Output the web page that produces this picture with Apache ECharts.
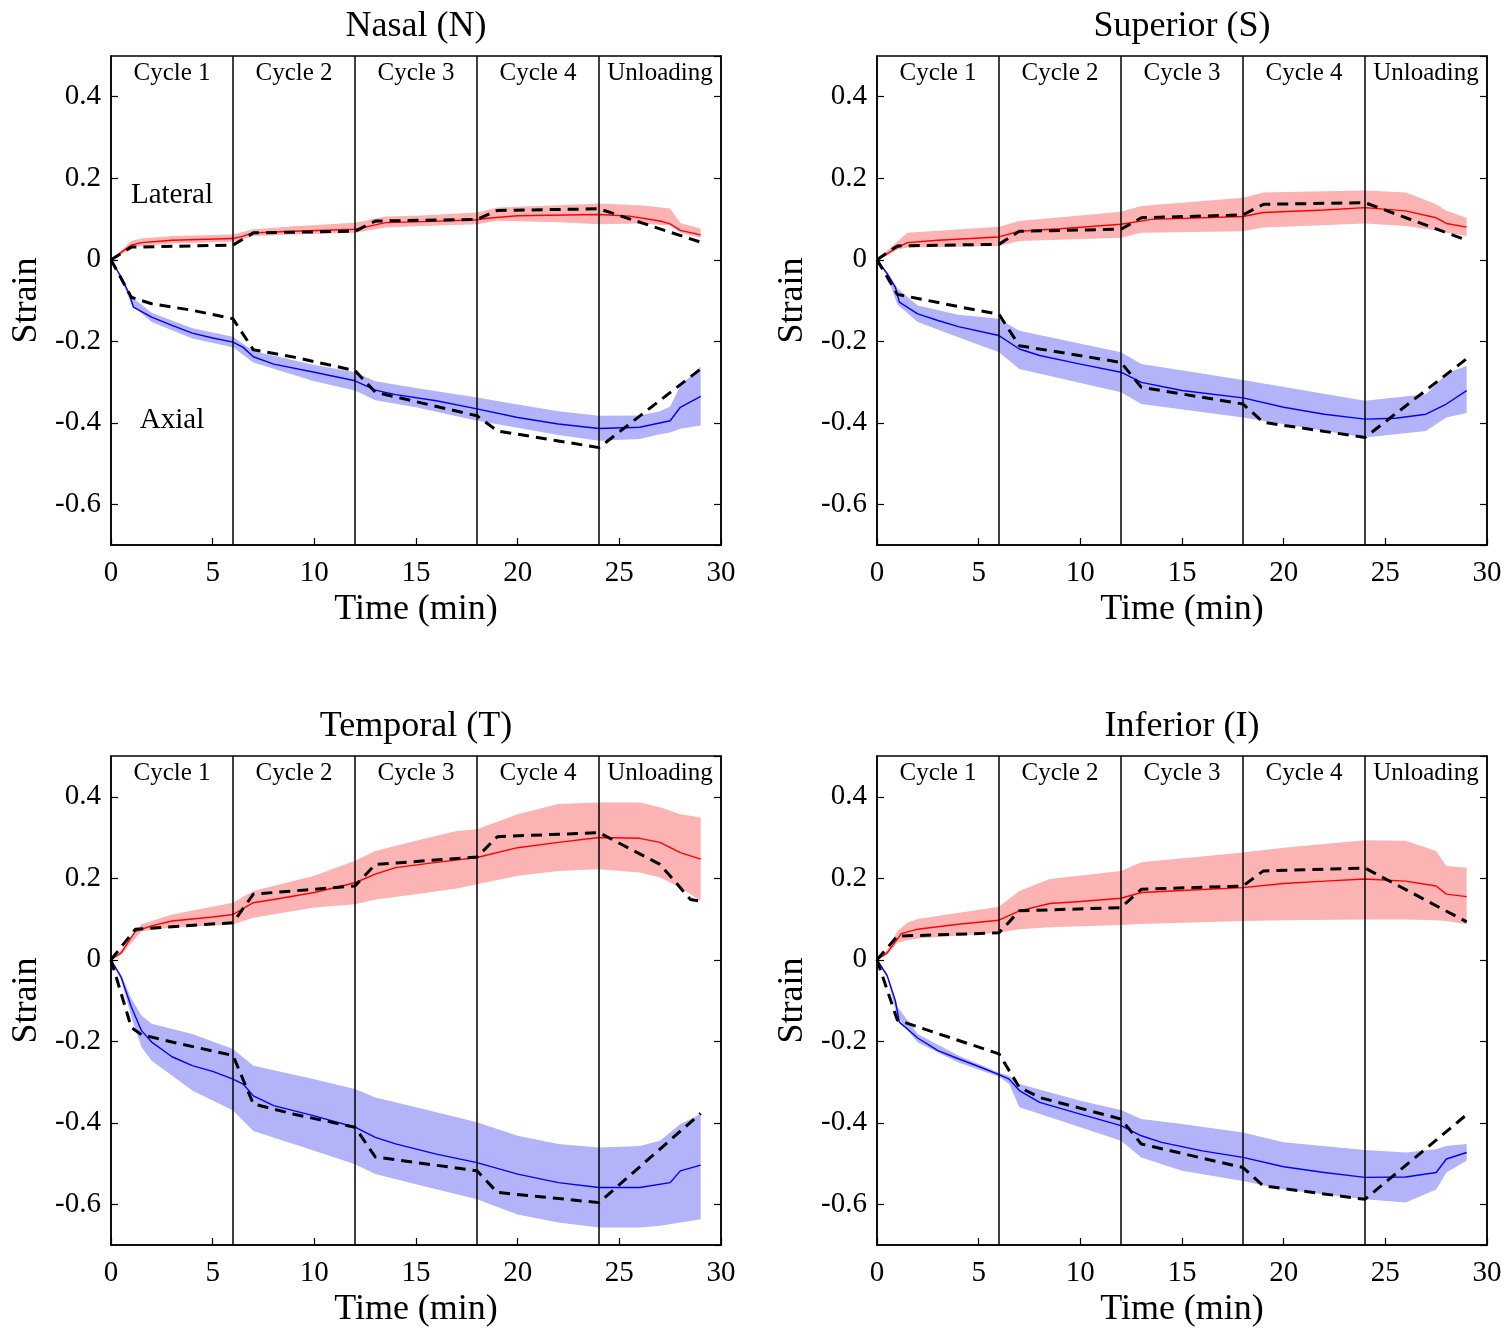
<!DOCTYPE html>
<html><head><meta charset="utf-8">
<script src="https://cdn.jsdelivr.net/npm/echarts@6/dist/echarts.min.js"></script>
<style>html,body{margin:0;padding:0;background:#fff}#c{width:1511px;height:1336px}</style>
</head><body><div id="c"></div><script>
// ---------- data ----------
const xTicks = [0, 5, 10, 15, 20, 25, 30];
const yTicks = [-0.6, -0.4, -0.2, 0, 0.2, 0.4];
const cycleBounds = [6, 12, 18, 24];
const cycleNames = ['Cycle 1', 'Cycle 2', 'Cycle 3', 'Cycle 4', 'Unloading'];
const cycleCenters = [3, 9, 15, 21, 27];
const panelTitles = ['Nasal (N)', 'Superior (S)', 'Temporal (T)', 'Inferior (I)'];
const groupNames = ['Lateral', 'Axial'];
const groupNamePos = [[3, 0.159], [3, -0.395]];

// Nasal
const nasalLatMean = [[0,0],[0.5,0.018],[1,0.036],[1.5,0.042],[3,0.048],[6,0.052],[6.5,0.058],[7,0.066],[9,0.070],[12,0.075],[12.5,0.080],[13.5,0.091],[15,0.093],[18,0.098],[18.5,0.102],[20,0.108],[24,0.111],[25.5,0.107],[27,0.095],[27.5,0.088],[28,0.072],[29,0.061]];
const nasalLatBand = [[0,0,0],[0.5,0.012,0.022],[1,0.030,0.046],[1.5,0.034,0.052],[3,0.040,0.058],[6,0.044,0.062],[7,0.058,0.075],[9,0.062,0.082],[12,0.066,0.091],[13.5,0.079,0.106],[15,0.082,0.108],[18,0.087,0.116],[19,0.096,0.128],[22,0.092,0.134],[24,0.087,0.138],[26,0.089,0.134],[27.5,0.084,0.126],[28,0.066,0.090],[29,0.054,0.076]];
const nasalLatModel = [[0,0],[1,0.031],[6,0.036],[7,0.066],[12,0.070],[13,0.095],[18,0.099],[19,0.121],[24,0.125],[29,0.043]];
const nasalAxMean = [[0,0],[0.5,-0.043],[0.9,-0.084],[1.1,-0.116],[2,-0.141],[3,-0.161],[4,-0.180],[5,-0.192],[6,-0.202],[6.5,-0.215],[7,-0.238],[8,-0.256],[10,-0.276],[12,-0.297],[13,-0.320],[14,-0.331],[16,-0.346],[18,-0.366],[20,-0.387],[22,-0.403],[24,-0.414],[26,-0.411],[27.5,-0.395],[28,-0.362],[29,-0.335]];
const nasalAxBand = [[0,0,0],[0.5,-0.048,-0.038],[1,-0.110,-0.090],[2,-0.153,-0.130],[4,-0.193,-0.168],[6,-0.215,-0.189],[7,-0.252,-0.224],[10,-0.298,-0.258],[12,-0.321,-0.276],[13,-0.345,-0.298],[15,-0.362,-0.315],[18,-0.395,-0.338],[20,-0.412,-0.355],[22,-0.430,-0.372],[24,-0.444,-0.383],[26,-0.440,-0.382],[27,-0.428,-0.372],[27.5,-0.424,-0.360],[28,-0.415,-0.310],[29,-0.407,-0.262]];
const nasalAxModel = [[0,0],[1,-0.092],[2,-0.108],[4,-0.124],[6,-0.145],[7,-0.221],[9,-0.239],[12,-0.272],[13,-0.325],[18,-0.383],[19,-0.420],[24,-0.461],[29,-0.268]];

// Superior
const supLatMean = [[0,0],[0.5,0.015],[1,0.030],[1.5,0.042],[3,0.048],[6,0.056],[7,0.070],[9,0.076],[12,0.087],[13.5,0.099],[18,0.106],[19,0.116],[22,0.122],[24,0.128],[26,0.120],[27.5,0.103],[28,0.089],[29,0.080]];
const supLatBand = [[0,0,0],[0.5,0.010,0.022],[1,0.025,0.045],[1.5,0.030,0.066],[6,0.034,0.081],[7,0.046,0.095],[12,0.054,0.118],[13,0.066,0.132],[18,0.070,0.152],[19,0.079,0.165],[24,0.089,0.170],[26,0.083,0.165],[27.5,0.072,0.136],[28,0.066,0.120],[29,0.058,0.103]];
const supLatModel = [[0,0],[1,0.034],[6,0.038],[7,0.070],[12,0.075],[13,0.103],[18,0.110],[19,0.136],[24,0.140],[29,0.048]];
const supAxMean = [[0,0],[0.5,-0.034],[0.9,-0.067],[1.1,-0.104],[2,-0.133],[3,-0.149],[4,-0.164],[6,-0.186],[7,-0.219],[8,-0.235],[10,-0.256],[12,-0.276],[13,-0.301],[15,-0.321],[18,-0.339],[20,-0.362],[22,-0.379],[24,-0.391],[25.5,-0.389],[27,-0.379],[28,-0.354],[29,-0.321]];
const supAxBand = [[0,0,0],[0.5,-0.040,-0.030],[1,-0.110,-0.070],[2,-0.153,-0.112],[4,-0.190,-0.135],[6,-0.227,-0.145],[7,-0.268,-0.174],[12,-0.325,-0.227],[13,-0.354,-0.256],[18,-0.387,-0.295],[24,-0.436,-0.346],[27,-0.420,-0.330],[28,-0.387,-0.280],[29,-0.376,-0.260]];
const supAxModel = [[0,0],[1,-0.085],[4,-0.115],[6,-0.134],[7,-0.211],[9,-0.227],[12,-0.252],[13,-0.313],[18,-0.354],[19,-0.399],[24,-0.436],[29,-0.243]];

// Temporal
const tempLatMean = [[0,0],[0.5,0.017],[1.2,0.070],[2,0.083],[3,0.095],[5,0.105],[6,0.111],[7,0.140],[8,0.148],[10,0.165],[12,0.189],[13,0.210],[14,0.226],[16,0.239],[18,0.251],[20,0.275],[22,0.288],[24,0.300],[26,0.298],[27,0.288],[28,0.263],[29,0.247]];
const tempLatBand = [[0,0,0],[0.5,0.012,0.024],[1.5,0.070,0.087],[3,0.079,0.111],[6,0.087,0.140],[7,0.103,0.169],[10,0.128,0.206],[12,0.136,0.243],[13,0.148,0.267],[15,0.161,0.292],[17,0.175,0.316],[18,0.185,0.320],[20,0.206,0.357],[22,0.218,0.382],[24,0.222,0.386],[26,0.214,0.386],[27,0.202,0.374],[28,0.177,0.357],[29,0.144,0.349]];
const tempLatModel = [[0,0],[1.2,0.075],[6,0.091],[7,0.161],[12,0.181],[13,0.234],[18,0.252],[19,0.302],[24,0.312],[27,0.234],[28.5,0.148],[29,0.144]];
const tempAxMean = [[0,0],[0.5,-0.043],[1,-0.116],[1.5,-0.174],[2,-0.202],[3,-0.238],[4,-0.260],[5,-0.274],[6,-0.293],[6.5,-0.305],[7,-0.334],[8,-0.358],[10,-0.383],[12,-0.411],[13,-0.436],[14,-0.452],[16,-0.477],[18,-0.498],[20,-0.526],[22,-0.547],[24,-0.559],[26,-0.559],[27.5,-0.547],[28,-0.518],[29,-0.504]];
const tempAxBand = [[0,0,0],[0.5,-0.050,-0.036],[1,-0.140,-0.095],[1.5,-0.215,-0.137],[2,-0.248,-0.157],[4,-0.321,-0.182],[6,-0.370,-0.219],[7,-0.420,-0.260],[10,-0.469,-0.293],[12,-0.502,-0.317],[13,-0.526,-0.338],[15,-0.551,-0.362],[18,-0.588,-0.399],[20,-0.625,-0.432],[22,-0.645,-0.452],[24,-0.657,-0.461],[26,-0.657,-0.457],[27,-0.653,-0.444],[28,-0.645,-0.403],[29,-0.637,-0.379]];
const tempAxModel = [[0,0],[1,-0.166],[1.5,-0.184],[3,-0.202],[6,-0.235],[7,-0.354],[9,-0.379],[12,-0.411],[13,-0.484],[18,-0.518],[19,-0.571],[24,-0.596],[29,-0.377]];

// Inferior
const infLatMean = [[0,0],[0.5,0.017],[1.2,0.064],[2,0.075],[4,0.087],[6,0.097],[7,0.120],[8.5,0.138],[10,0.143],[12,0.151],[13,0.165],[15,0.170],[18,0.177],[20,0.187],[22,0.193],[24,0.198],[26,0.193],[27.5,0.181],[28,0.161],[29,0.155]];
const infLatBand = [[0,0,0],[0.5,0.012,0.024],[1,0.042,0.070],[1.5,0.048,0.091],[2,0.052,0.100],[6,0.066,0.130],[7,0.075,0.169],[8.5,0.080,0.198],[12,0.085,0.218],[13,0.088,0.239],[18,0.095,0.263],[20,0.097,0.275],[24,0.099,0.293],[26,0.099,0.292],[27.5,0.097,0.267],[28,0.095,0.230],[29,0.087,0.226]];
const infLatModel = [[0,0],[1,0.058],[6,0.066],[7,0.120],[12,0.128],[13,0.173],[18,0.181],[19,0.218],[24,0.225],[29,0.093]];
const infAxMean = [[0,0],[0.5,-0.039],[0.9,-0.100],[1.1,-0.153],[2,-0.192],[3,-0.223],[4,-0.243],[5,-0.262],[6,-0.282],[6.5,-0.293],[7,-0.321],[8,-0.350],[10,-0.379],[12,-0.407],[13,-0.432],[14,-0.448],[16,-0.469],[18,-0.485],[20,-0.508],[22,-0.522],[24,-0.534],[26,-0.533],[27.5,-0.522],[28,-0.489],[29,-0.473]];
const infAxBand = [[0,0,0],[0.5,-0.044,-0.034],[1,-0.140,-0.115],[2,-0.203,-0.182],[4,-0.252,-0.235],[6,-0.287,-0.277],[6.5,-0.305,-0.285],[7,-0.362,-0.305],[10,-0.411,-0.346],[12,-0.444,-0.369],[13,-0.485,-0.391],[15,-0.518,-0.403],[18,-0.543,-0.424],[20,-0.564,-0.448],[24,-0.588,-0.467],[26,-0.596,-0.473],[27.5,-0.564,-0.465],[28,-0.522,-0.457],[29,-0.493,-0.452]];
const infAxModel = [[0,0],[1,-0.148],[6,-0.231],[7,-0.313],[8,-0.338],[12,-0.391],[13,-0.452],[18,-0.510],[19,-0.555],[24,-0.588],[29,-0.380]];

// ---------- build ----------
const panels = [
  {lat:[nasalLatMean, nasalLatBand, nasalLatModel], ax:[nasalAxMean, nasalAxBand, nasalAxModel]},
  {lat:[supLatMean, supLatBand, supLatModel], ax:[supAxMean, supAxBand, supAxModel]},
  {lat:[tempLatMean, tempLatBand, tempLatModel], ax:[tempAxMean, tempAxBand, tempAxModel]},
  {lat:[infLatMean, infLatBand, infLatModel], ax:[infAxMean, infAxBand, infAxModel]}
];
const F = 'Liberation Serif';
const gridPos = [[111, 56], [877, 56], [111, 756], [877, 756]];
const GW = 610, GH = 489;
const black = '#000';

const grids = [], xAxes = [], yAxes = [], series = [], graphics = [];
const fmtY = v => {
  const r = Math.round(v * 10) / 10;
  return yTicks.some(t => Math.abs(t - r) < 1e-6) && Math.abs(v - r) < 1e-6 ? String(r) : '';
};

function bandSeries(band, color, i, yi) {
  return {
    type: 'custom', xAxisIndex: i, yAxisIndex: yi, silent: true, z: 1,
    encode: {x: 0, y: [1, 2]},
    data: band,
    renderItem: function (params, api) {
      if (params.dataIndex !== 0) return null;
      const up = band.map(d => api.coord([d[0], d[2]]));
      const lo = band.map(d => api.coord([d[0], d[1]])).reverse();
      return {type: 'polygon', shape: {points: up.concat(lo)}, style: {fill: color, stroke: null}};
    }
  };
}

function textSeries(i, yi, names, positions, size) {
  return {type: 'scatter', xAxisIndex: i, yAxisIndex: yi, symbolSize: 1, silent: true,
    itemStyle: {color: 'rgba(0,0,0,0)', opacity: 1},
    label: {show: true, position: 'inside', formatter: '{b}', color: black, fontSize: size, fontFamily: F},
    data: names.map((n, k) => ({name: n, value: positions[k]})), z: 5};
}

panels.forEach((p, i) => {
  const [gx, gy] = gridPos[i];
  grids.push({left: gx, top: gy, width: GW, height: GH, show: true, borderColor: black, borderWidth: 1.5, backgroundColor: 'transparent', containLabel: false});
  xAxes.push({
    gridIndex: i, type: 'value', min: xTicks[0], max: xTicks[xTicks.length - 1], interval: 5,
    axisLine: {show: true, onZero: false, lineStyle: {color: black, width: 1.5}},
    axisTick: {show: true, inside: true, length: 7, lineStyle: {color: black, width: 1.2}},
    axisLabel: {color: black, fontSize: 29, fontFamily: F, margin: 14},
    splitLine: {show: false},
    name: 'Time (min)', nameLocation: 'middle', nameGap: 47,
    nameTextStyle: {fontSize: 36, fontFamily: F, color: black}
  });
  const yBase = {
    gridIndex: i, type: 'value', min: -0.7, max: 0.5, splitNumber: 6,
    axisLine: {show: true, onZero: false, lineStyle: {color: black, width: 1.5}},
    axisTick: {show: true, inside: true, length: 7, lineStyle: {color: black, width: 1.2}},
    splitLine: {show: false}
  };
  yAxes.push(Object.assign({}, yBase, {
    position: 'left',
    axisLabel: {color: black, fontSize: 29, fontFamily: F, margin: 10, formatter: fmtY, showMinLabel: false, showMaxLabel: false},
    name: 'Strain', nameLocation: 'middle', nameGap: 66, nameRotate: 90,
    nameTextStyle: {fontSize: 36, fontFamily: F, color: black}
  }));
  yAxes.push(Object.assign({}, yBase, {position: 'right', axisLabel: {show: false}}));

  const yi = 2 * i;
  series.push(bandSeries(p.lat[1], '#fbb3b3', i, yi));
  series.push(bandSeries(p.ax[1], '#b3b3fa', i, yi));
  series.push({type: 'line', xAxisIndex: i, yAxisIndex: yi, data: p.lat[0], symbol: 'none', silent: true,
    lineStyle: {color: '#ff0000', width: 1.4}, z: 3});
  series.push({type: 'line', xAxisIndex: i, yAxisIndex: yi, data: p.ax[0], symbol: 'none', silent: true,
    lineStyle: {color: '#0000ff', width: 1.4}, z: 3});
  series.push({type: 'line', xAxisIndex: i, yAxisIndex: yi, data: p.lat[2], symbol: 'none', silent: true,
    lineStyle: {color: black, width: 3, type: [11, 7]}, z: 4});
  series.push({type: 'line', xAxisIndex: i, yAxisIndex: yi, data: p.ax[2], symbol: 'none', silent: true,
    lineStyle: {color: black, width: 3, type: [11, 7]}, z: 4,
    markLine: {silent: true, symbol: ['none', 'none'], label: {show: false},
      lineStyle: {color: black, type: 'solid', width: 1.5},
      data: cycleBounds.map(v => ({xAxis: v}))}});
  series.push(textSeries(i, yi, cycleNames, cycleCenters.map(c => [c, 0.458]), 25));
  if (i === 0) series.push(textSeries(i, yi, groupNames, groupNamePos, 29));
  graphics.push({type: 'text', x: gx + GW / 2, y: gy - 29, z: 10,
    style: {text: panelTitles[i], fill: black, font: '36px "' + F + '"', textAlign: 'center', textVerticalAlign: 'middle'}});
});

const chart = echarts.init(document.getElementById('c'), null, {renderer: 'canvas'});
chart.setOption({
  animation: false,
  backgroundColor: '#fff',
  grid: grids, xAxis: xAxes, yAxis: yAxes, series: series, graphic: graphics
});
</script></body></html>
